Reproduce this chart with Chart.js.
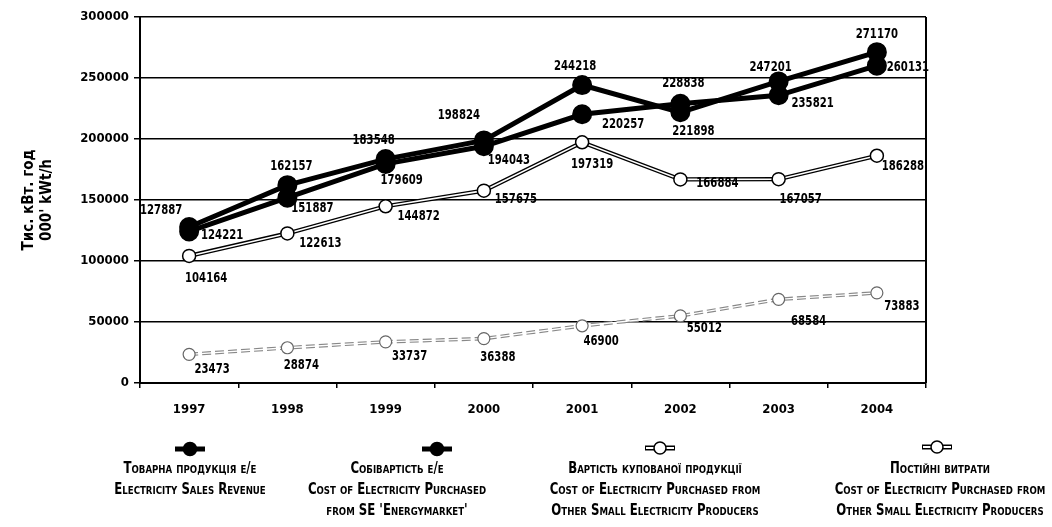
<!DOCTYPE html>
<html>
<head>
<meta charset="utf-8">
<script src="https://cdn.jsdelivr.net/npm/chart.js@4"></script>
<style>
  html, body { margin: 0; padding: 0; background: #fff; }
  #wrap { position: relative; width: 1052px; height: 527px; overflow: hidden; }
  #c { position: absolute; left: 0; top: 0; }
  .leg { position: absolute; font-family: "Liberation Sans Narrow", "DejaVu Sans Condensed", "Arial Narrow", sans-serif;
         font-weight: bold; font-size: 15px; font-variant: small-caps; color: #000; text-align: center;
         line-height: 21px; white-space: nowrap; transform: translateX(-50%) scaleX(0.87); }
  .mk { position: absolute; transform: translate(-50%, -50%); }
</style>
</head>
<body>
<div id="wrap">
  <canvas id="c" width="1052" height="527"></canvas>
</div>
<script>
// ---- data ----
const years = ["1997", "1998", "1999", "2000", "2001", "2002", "2003", "2004"];
const salesRevenue   = [127887, 162157, 183548, 198824, 244218, 221898, 247201, 271170];
const costSE         = [124221, 151887, 179609, 194043, 220257, 228838, 235821, 260131];
const costPurchased  = [104164, 122613, 144872, 157675, 197319, 166884, 167057, 186288];
const fixedCosts     = [23473, 28874, 33737, 36388, 46900, 55012, 68584, 73883];
const yTickValues    = [0, 50000, 100000, 150000, 200000, 250000, 300000];
const yTitle = ["Тис. кВт. год", "000' kWt/h"];
const legendTexts = [
  ["Товарна продукція е/е", "Electricity Sales Revenue"],
  ["Собівартість е/е", "Cost of Electricity Purchased", "from SE 'Energymarket'"],
  ["Вартість купованої продукції", "Cost of Electricity Purchased from", "Other Small Electricity Producers"],
  ["Постійні витрати", "Cost of Electricity Purchased from", "Other Small Electricity Producers"]
];

// ---- style: value-label offsets (dx, dy) from each point ----
const labelOffsets = [
  [[-28,-17],[4,-19],[-12,-19],[-25,-25],[-7,-19],[13,19],[-8,-14],[0,-18]],
  [[33,4],[25,11],[16,16],[25,14],[41,10],[3,-20],[34,8],[31,2]],
  [[17,22],[33,10],[33,10],[32,9],[10,22],[37,4],[22,20],[26,11]],
  [[23,15],[14,18],[24,15],[14,19],[19,16],[24,12],[30,22],[25,13]]
];

const FONT = '"Liberation Sans Narrow", "DejaVu Sans Condensed", "Arial Narrow", sans-serif';
const LABEL_SCALE_X = 0.8;

const valueLabels = {
  id: 'valueLabels',
  afterDatasetsDraw(chart) {
    const ctx = chart.ctx;
    ctx.save();
    ctx.font = 'bold 14px ' + FONT;
    ctx.fillStyle = '#000';
    ctx.textAlign = 'center';
    ctx.textBaseline = 'middle';
    ctx.scale(LABEL_SCALE_X, 1);
    chart.data.datasets.forEach((ds, di) => {
      if (ds.labelIndex === undefined) return;
      const meta = chart.getDatasetMeta(di);
      meta.data.forEach((pt, i) => {
        const off = labelOffsets[ds.labelIndex][i];
        ctx.fillText(String(ds.data[i]), (pt.x + off[0]) / LABEL_SCALE_X, pt.y + off[1]);
      });
    });
    ctx.restore();
  }
};

const frame = {
  id: 'frame',
  beforeDatasetsDraw(chart) {
    const a = chart.chartArea, ctx = chart.ctx;
    ctx.save();
    ctx.strokeStyle = '#000';
    ctx.lineWidth = 2;
    ctx.beginPath();
    ctx.moveTo(a.right, a.top);
    ctx.lineTo(a.right, a.bottom);
    ctx.stroke();
    ctx.restore();
  }
};

new Chart(document.getElementById('c'), {
  type: 'line',
  data: {
    labels: years,
    datasets: [
      { data: salesRevenue, labelIndex: 0, order: 1, borderColor: '#000', borderWidth: 5,
        pointRadius: 7.5, pointBackgroundColor: '#000', pointBorderColor: '#000', tension: 0 },
      { data: costSE, labelIndex: 1, order: 2, borderColor: '#000', borderWidth: 5,
        pointRadius: 7.5, pointBackgroundColor: '#000', pointBorderColor: '#000', tension: 0 },
      { data: costPurchased, labelIndex: 2, order: 3, borderColor: '#fff', borderWidth: 1.6,
        pointRadius: 6.5, pointBackgroundColor: '#fff', pointBorderColor: '#000', pointBorderWidth: 1.5, tension: 0 },
      { data: costPurchased, order: 4, borderColor: '#000', borderWidth: 4.2, pointRadius: 0, tension: 0 },
      { data: fixedCosts, labelIndex: 3, order: 5, borderColor: '#fff', borderWidth: 1.4,
        pointRadius: 6, pointBackgroundColor: '#fff', pointBorderColor: '#666', pointBorderWidth: 1.2, tension: 0 },
      { data: fixedCosts, order: 6, borderColor: '#888', borderWidth: 3.6, borderDash: [9, 4], pointRadius: 0, tension: 0 }
    ]
  },
  options: {
    responsive: false,
    animation: false,
    events: [],
    layout: { padding: { left: 0, right: 126, top: 17, bottom: 104 } },
    plugins: { legend: { display: false }, tooltip: { enabled: false } },
    scales: {
      x: {
        offset: true,
        grid: { display: true, offset: true, drawOnChartArea: false, color: '#000', lineWidth: 1.5, tickLength: 5 },
        border: { display: true, color: '#000', width: 2 },
        ticks: { color: '#000', font: { family: FONT, size: 13, weight: 'bold' }, padding: 14, maxRotation: 0 },
        afterFit(s) { s.height = 40; }
      },
      y: {
        min: 0, max: 300000,
        afterBuildTicks(s) { s.ticks = yTickValues.map(v => ({ value: v })); },
        grid: { color: '#000', lineWidth: 1.5, tickLength: 6 },
        border: { display: true, color: '#000', width: 2 },
        ticks: { color: '#000', font: { family: FONT, size: 13, weight: 'bold' }, padding: 5,
                 callback: v => String(v) },
        title: { display: true, text: yTitle, color: '#000', padding: { top: 20, bottom: 0 },
                 font: { family: FONT, size: 15, weight: 'bold' }, },
        afterFit(s) { s.width = 140; }
      }
    }
  },
  plugins: [frame, valueLabels]
});

// ---- HTML legend ----
const legendCenters = [[190, 449, 190], [437, 449, 397], [660, 448, 655], [937, 447, 940]];
const wrap = document.getElementById('wrap');
legendTexts.forEach((lines, i) => {
  const [mx, my, tx] = legendCenters[i];
  const svgNS = 'http://www.w3.org/2000/svg';
  const svg = document.createElementNS(svgNS, 'svg');
  svg.setAttribute('width', '40'); svg.setAttribute('height', '16');
  svg.setAttribute('class', 'mk');
  svg.style.left = mx + 'px'; svg.style.top = my + 'px';
  const filled = i < 2;
  const ln = document.createElementNS(svgNS, 'line');
  ln.setAttribute('x1', 5); ln.setAttribute('x2', 35); ln.setAttribute('y1', 8); ln.setAttribute('y2', 8);
  ln.setAttribute('stroke', '#000'); ln.setAttribute('stroke-width', 5);
  svg.appendChild(ln);
  if (!filled) {
    const ln2 = document.createElementNS(svgNS, 'line');
    ln2.setAttribute('x1', 6); ln2.setAttribute('x2', 34); ln2.setAttribute('y1', 8); ln2.setAttribute('y2', 8);
    ln2.setAttribute('stroke', '#fff'); ln2.setAttribute('stroke-width', 2);
    svg.appendChild(ln2);
  }
  const c = document.createElementNS(svgNS, 'circle');
  c.setAttribute('cx', 20); c.setAttribute('cy', 8); c.setAttribute('r', filled ? 6.5 : 6);
  c.setAttribute('fill', filled ? '#000' : '#fff'); c.setAttribute('stroke', '#000'); c.setAttribute('stroke-width', 1.5);
  svg.appendChild(c);
  wrap.appendChild(svg);
  const d = document.createElement('div');
  d.className = 'leg';
  d.style.left = tx + 'px'; d.style.top = '458px';
  d.innerHTML = lines.map(t => t.replace(/&/g, '&amp;').replace(/</g, '&lt;')).join('<br>');
  wrap.appendChild(d);
});
</script>
</body>
</html>
